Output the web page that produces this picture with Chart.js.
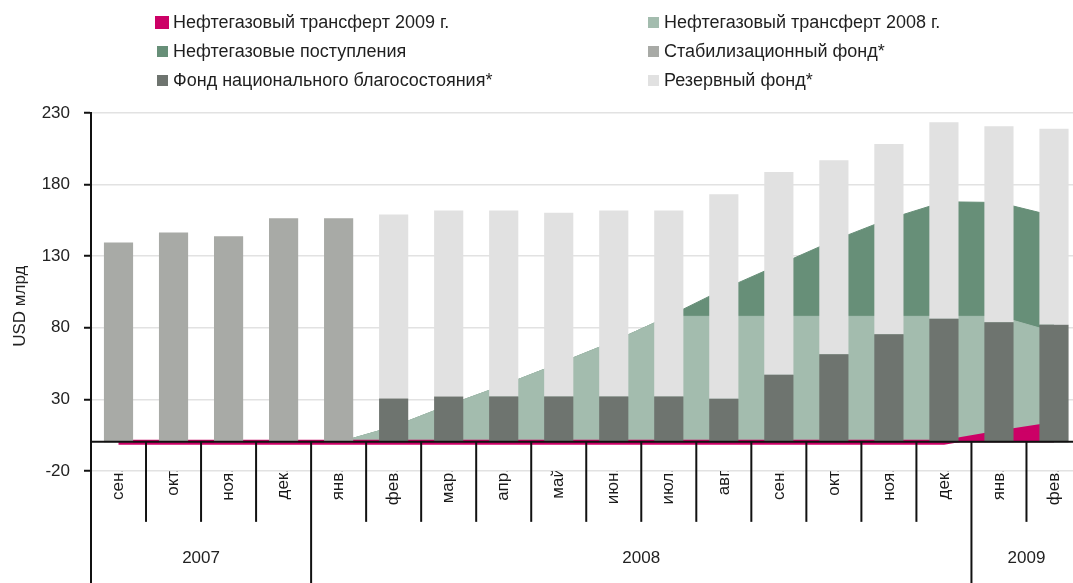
<!DOCTYPE html>
<html>
<head>
<meta charset="utf-8">
<script src="https://cdn.jsdelivr.net/npm/chart.js@4/dist/chart.umd.min.js"></script>
<style>
  html, body { margin: 0; padding: 0; background: #fff; overflow: hidden; }
  #wrap { position: relative; width: 1090px; height: 583px; }
  #legend { position: absolute; left: 0; top: 0; width: 1073px; height: 100px;
            font-family: "Liberation Sans", Arial, sans-serif; font-size: 18px; color: #1f1f1f; }
  .item { position: absolute; white-space: nowrap; line-height: 20px; }
  .box { position: absolute; width: 11px; height: 11px; left: -16px; top: 5px; }
</style>
</head>
<body>
<div id="wrap">
  <canvas id="myChart" width="1090" height="583"></canvas>
  <div id="legend"></div>
</div>
<script>
// categories
const months = ['сен.', 'окт.', 'ноя.', 'дек.', 'янв.', 'фев.', 'мар.', 'апр.', 'май', 'июн.',
                'июл.', 'авг.', 'сен.', 'окт.', 'ноя.', 'дек.', 'янв.', 'фев.'];
const monthYear = ['2007', '2007', '2007', '2007',
                   '2008', '2008', '2008', '2008', '2008', '2008', '2008', '2008', '2008', '2008', '2008', '2008',
                   '2009', '2009'];
const yTicks = [-20, 30, 80, 130, 180, 230];

// series (USD bn)
const stabFund = [139.5, 146.5, 144, 156.5, 156.5, null, null, null, null, null, null, null, null, null, null, null, null, null];
const nwf = [null, null, null, null, null, 30.7, 32, 32, 32, 32, 32, 30.5, 47.3, 61.5, 75.5, 86.4, 83.9, 82.2];
const reserveFund = [null, null, null, null, null, 128.5, 130, 130, 128.4, 130, 130, 142.8, 141.5, 135.5, 132.9, 137.1, 136.8, 136.8];
const transfer2008 = [null, null, null, null, 0, 11, 26, 40, 55, 70.5, 88, 88, 88, 88, 88, 88, 88, 77];
const revenues = [null, null, null, null, 0, 11, 26, 40, 55, 70.5, 88, 107, 124, 141, 156, 168, 167.5, 158];
const transfer2009 = [0, 0, 0, 0, 0, 0, 0, 0, 0, 0, 0, 0, 0, 0, 0, 0, 6.5, 12.5];

document.addEventListener("DOMContentLoaded", () => {
    var ctx = document.getElementById('myChart').getContext('2d');

    // zero line, month / year separators and year labels
    var axisBits = {
        id: 'axisBits',
        afterDraw(chart) {
            var c = chart.ctx, xs = chart.scales.x, ys = chart.scales.y, area = chart.chartArea;
            var y0 = ys.getPixelForValue(0) - 0.5;
            var H = chart.height;
            c.save();
            c.strokeStyle = '#111';
            c.lineWidth = 2;
            c.beginPath();
            c.moveTo(area.left, y0);
            c.lineTo(area.right, y0);
            c.stroke();
            // y axis continues down through the label rows
            c.beginPath();
            c.moveTo(area.left, area.bottom);
            c.lineTo(area.left, H);
            c.stroke();
            var groups = [];
            for (var i = 0; i < months.length; i++) {
                if (i === 0 || monthYear[i] !== monthYear[i - 1]) groups.push({label: monthYear[i], from: i, to: i});
                else groups[groups.length - 1].to = i;
                if (i === 0) continue;
                var x = (xs.getPixelForValue(i - 1) + xs.getPixelForValue(i)) / 2;
                var yearBreak = monthYear[i] !== monthYear[i - 1];
                c.beginPath();
                c.moveTo(x, y0);
                c.lineTo(x, yearBreak ? H : y0 + 80);
                c.stroke();
            }
            c.fillStyle = '#222';
            c.font = '17px "Liberation Sans", Arial, sans-serif';
            c.textAlign = 'center';
            c.textBaseline = 'middle';
            var half = (xs.getPixelForValue(1) - xs.getPixelForValue(0)) / 2;
            groups.forEach(function(g) {
                var a = Math.max(xs.getPixelForValue(g.from) - half, area.left);
                var b = Math.min(xs.getPixelForValue(g.to) + half, area.right);
                c.fillText(g.label, (a + b) / 2, 558);
            });
            c.restore();
        }
    };

    var chart = new Chart(ctx, {
        type: 'bar',
        data: {
            labels: months,
            datasets: [{
                type: 'line',
                label: 'Нефтегазовый трансферт 2009 г.',
                data: transfer2009,
                backgroundColor: '#cc0066',
                borderColor: '#cc0066',
                borderWidth: 5,
                pointRadius: 0,
                fill: 'origin',
                stack: 'a1',
                order: 1
            }, {
                type: 'line',
                label: 'Нефтегазовый трансферт 2008 г.',
                data: transfer2008,
                backgroundColor: '#a3bcae',
                borderColor: '#a3bcae',
                borderWidth: 1,
                pointRadius: 0,
                fill: 'origin',
                stack: 'a2',
                order: 2
            }, {
                type: 'line',
                label: 'Нефтегазовые поступления',
                data: revenues,
                backgroundColor: '#678f78',
                borderColor: '#678f78',
                borderWidth: 1,
                pointRadius: 0,
                fill: 'origin',
                stack: 'a3',
                order: 3
            }, {
                label: 'Стабилизационный фонд*',
                data: stabFund,
                backgroundColor: '#a8aaa6',
                stack: 'bars',
                order: 0
            }, {
                label: 'Фонд национального благосостояния*',
                data: nwf,
                backgroundColor: '#6e746f',
                stack: 'bars',
                order: 0
            }, {
                label: 'Резервный фонд*',
                data: reserveFund,
                backgroundColor: '#e1e1e1',
                stack: 'bars',
                order: 0
            }]
        },
        options: {
            responsive: false,
            animation: false,
            layout: { padding: { top: 113, right: 8.5, left: 0, bottom: 0 } },
            datasets: { bar: { barPercentage: 0.53, categoryPercentage: 1, borderWidth: 0 } },
            elements: { line: { tension: 0 } },
            plugins: { legend: { display: false }, tooltip: { enabled: false } },
            scales: {
                x: {
                    stacked: true,
                    grid: { display: false, drawTicks: false },
                    border: { display: false },
                    ticks: {
                        autoSkip: false, minRotation: 90, maxRotation: 90, padding: -3,
                        color: '#1a1a1a', font: { family: '"Liberation Sans", Arial, sans-serif', size: 17 }
                    },
                    afterFit: function(s) { s.height = 112; }
                },
                y: {
                    stacked: true,
                    min: -20,
                    max: 230,
                    afterBuildTicks: function(s) { s.ticks = yTicks.map(function(v) { return {value: v}; }); },
                    grid: { color: '#e2e2e2', lineWidth: 1.5, tickColor: '#111', tickLength: 7, tickWidth: 2 },
                    border: { color: '#111', width: 2 },
                    ticks: {
                        padding: 14, color: '#222',
                        font: { family: '"Liberation Sans", Arial, sans-serif', size: 17 }
                    },
                    title: {
                        display: true, text: 'USD млрд      ', color: '#222', padding: { top: 10, bottom: 0 },
                        font: { family: '"Liberation Sans", Arial, sans-serif', size: 17 }
                    },
                    afterFit: function(s) { s.width = 91; }
                }
            }
        },
        plugins: [axisBits]
    });

    // two-column legend, built from the datasets
    var legendOrder = [0, 1, 2, 3, 4, 5];
    var colX = [173, 664];
    var rowY = [12, 41, 70];
    var leg = document.getElementById('legend');
    legendOrder.forEach(function(di, k) {
        var ds = chart.data.datasets[di];
        var item = document.createElement('div');
        item.className = 'item';
        item.style.left = colX[k % 2] + 'px';
        item.style.top = rowY[Math.floor(k / 2)] + 'px';
        var box = document.createElement('span');
        box.className = 'box';
        box.style.background = ds.backgroundColor;
        if (di === 0) { box.style.width = '14px'; box.style.height = '13px'; box.style.left = '-18px'; box.style.top = '4px'; }
        item.appendChild(box);
        item.appendChild(document.createTextNode(ds.label));
        leg.appendChild(item);
    });
});
</script>
</body>
</html>
